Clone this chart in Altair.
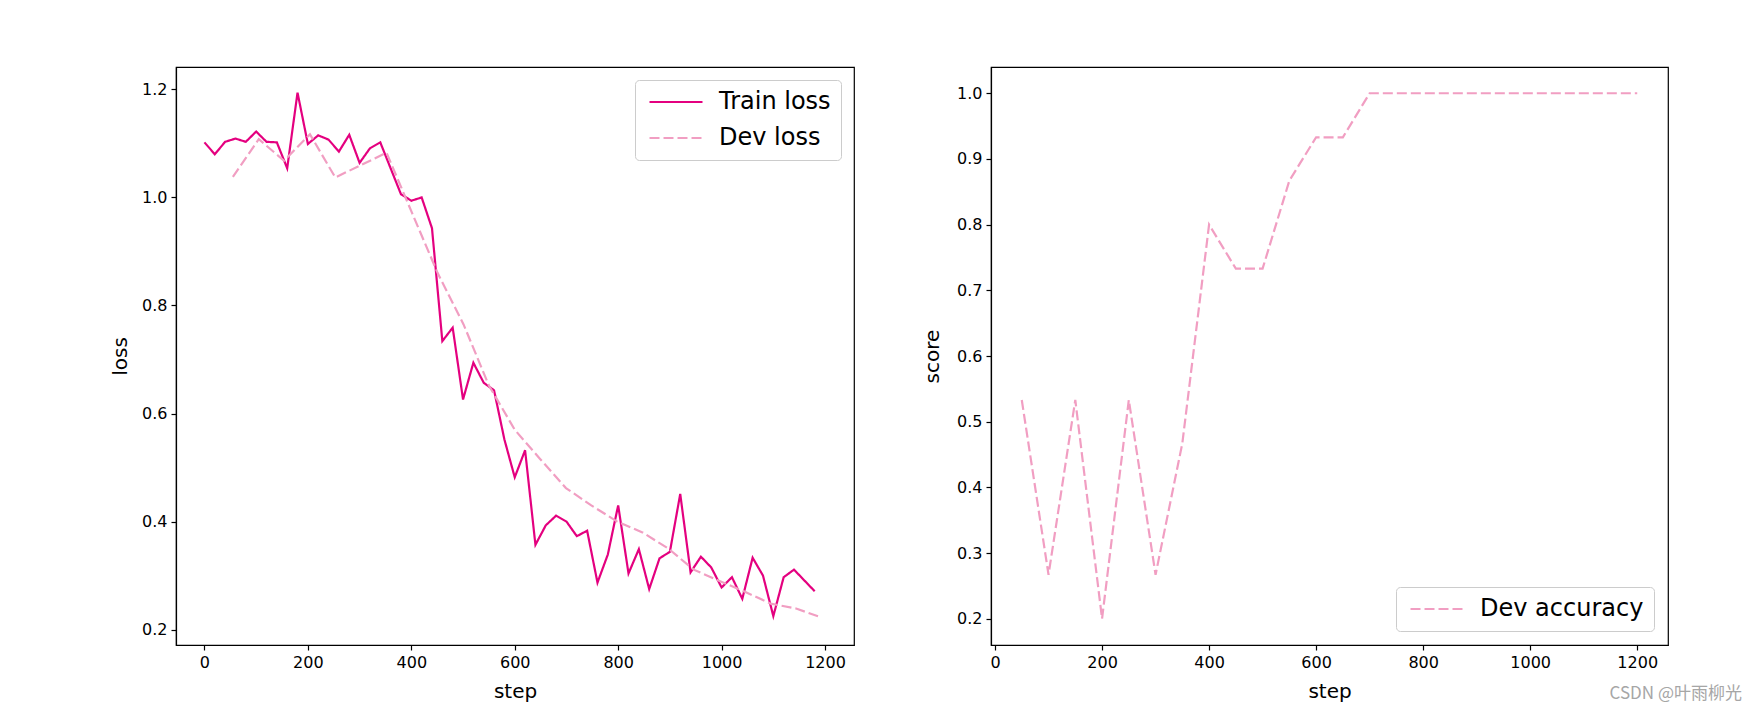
import altair as alt
import pandas as pd

# ---- data ----
train_steps = list(range(0, 1200, 20))
train_loss = [1.102, 1.080, 1.103, 1.109, 1.103, 1.122, 1.103, 1.102, 1.054, 1.194,
              1.099, 1.115, 1.107, 1.085, 1.116, 1.064, 1.091, 1.102, 1.054, 1.006,
              0.994, 1.000, 0.943, 0.734, 0.759, 0.626, 0.694, 0.657, 0.643, 0.552,
              0.482, 0.532, 0.357, 0.393, 0.411, 0.400, 0.373, 0.383, 0.287, 0.339,
              0.430, 0.304, 0.349, 0.275, 0.332, 0.344, 0.451, 0.306, 0.335, 0.315,
              0.278, 0.297, 0.257, 0.333, 0.300, 0.225, 0.297, 0.311, 0.291, 0.271]

dev_loss_steps = [55, 105, 154, 204, 253, 303, 352, 402, 451, 501, 550, 600,
                  649, 699, 748, 798, 847, 897, 946, 996, 1045, 1095, 1144, 1191]
dev_loss = [1.038, 1.108, 1.068, 1.117, 1.037, 1.060, 1.083, 0.970, 0.860, 0.765,
            0.652, 0.570, 0.516, 0.462, 0.430, 0.400, 0.380, 0.350, 0.311, 0.290,
            0.270, 0.248, 0.239, 0.223]

acc_steps = [50, 100, 150, 200, 250, 300, 350, 400, 450, 500, 550, 600,
             650, 700, 750, 800, 850, 900, 950, 1000, 1050, 1100, 1150, 1200]
dev_acc = [0.533, 0.267, 0.533, 0.200, 0.533, 0.267, 0.467, 0.800, 0.733, 0.733,
           0.867, 0.933, 0.933, 1.000, 1.000, 1.000, 1.000, 1.000, 1.000, 1.000,
           1.000, 1.000, 1.000, 1.000]

loss_series = ["Train loss", "Dev loss"]
acc_series = ["Dev accuracy"]
x_ticks = [0, 200, 400, 600, 800, 1000, 1200]
loss_ticks = [0.2, 0.4, 0.6, 0.8, 1.0, 1.2]
score_ticks = [0.2, 0.3, 0.4, 0.5, 0.6, 0.7, 0.8, 0.9, 1.0]
watermark = "CSDN @叶雨柳光"

TRAIN_C = "#e4007f"
DEV_C = "#f19ec2"
DASH = [10, 4]

train_df = pd.DataFrame({"step": train_steps, "value": train_loss, "series": "Train loss"})
devl_df = pd.DataFrame({"step": dev_loss_steps, "value": dev_loss, "series": "Dev loss"})
acc_df = pd.DataFrame({"step": acc_steps, "value": dev_acc, "series": "Dev accuracy"})

PW, PH = 678, 578

loss_color = alt.Color("series:N", scale=alt.Scale(domain=loss_series, range=[TRAIN_C, DEV_C]),
                       legend=alt.Legend(title=None, orient="top-right", offset=13))
loss_dash = alt.StrokeDash("series:N", scale=alt.Scale(domain=loss_series, range=[[1, 0], DASH]),
                           legend=alt.Legend(title=None, orient="top-right", offset=13))

x_left = alt.X("step:Q", title="step",
               scale=alt.Scale(domain=[-55, 1256], nice=False, zero=False),
               axis=alt.Axis(values=x_ticks, format="d", titlePadding=11))
y_left = alt.Y("value:Q", title="loss",
               scale=alt.Scale(domain=[0.1715, 1.2415], nice=False, zero=False),
               axis=alt.Axis(values=loss_ticks, format=".1f", titleX=-56, titleY=PH / 2,
                             titleBaseline="middle", titleAngle=270))

train_line = alt.Chart(train_df).mark_line(strokeWidth=2.2).encode(
    x=x_left, y=y_left, color=loss_color, strokeDash=loss_dash)
dev_line = alt.Chart(devl_df).mark_line(strokeWidth=2.2).encode(
    x=x_left, y=y_left, color=loss_color, strokeDash=loss_dash)

left = alt.layer(train_line, dev_line).properties(width=PW, height=PH)

x_right = alt.X("step:Q", title="step",
                scale=alt.Scale(domain=[-7.5, 1257.5], nice=False, zero=False),
                axis=alt.Axis(values=x_ticks, format="d", titlePadding=11))
y_right = alt.Y("value:Q", title="score",
                scale=alt.Scale(domain=[0.16, 1.04], nice=False, zero=False),
                axis=alt.Axis(values=score_ticks, format=".1f", titleX=-59, titleY=PH / 2,
                              titleBaseline="middle", titleAngle=270))

acc_line = alt.Chart(acc_df).mark_line(strokeWidth=2.2).encode(
    x=x_right, y=y_right,
    color=alt.Color("series:N", scale=alt.Scale(domain=acc_series, range=[DEV_C]),
                    legend=alt.Legend(title=None, orient="bottom-right", offset=14)),
    strokeDash=alt.StrokeDash("series:N", scale=alt.Scale(domain=acc_series, range=[DASH]),
                              legend=alt.Legend(title=None, orient="bottom-right", offset=14)),
)

wm = alt.Chart(pd.DataFrame({"t": [watermark]})).mark_text(
    align="right", baseline="middle", fontSize=17, color="#a6a6a6",
    font="Noto Sans CJK SC").encode(text="t:N", x=alt.value(751), y=alt.value(627))

right = alt.layer(acc_line, wm).properties(width=677, height=PH).resolve_scale(
    color="independent", strokeDash="independent")

chart = alt.hconcat(left, right, spacing=137, bounds="flush").resolve_scale(
    color="independent", strokeDash="independent", x="independent", y="independent"
).properties(
    padding={"left": 109, "top": 66, "right": 6, "bottom": 0}
).configure(
    font="DejaVu Sans", background="white"
).configure_view(
    stroke="black", strokeWidth=1.2
).configure_axis(
    grid=False, labelFontSize=16, titleFontSize=20, titleFontWeight="normal",
    labelColor="black", titleColor="black", tickColor="black", domainColor="black",
    tickSize=5, tickWidth=1.2, domainWidth=1.2, labelPadding=4, labelFont="DejaVu Sans",
    titleFont="DejaVu Sans"
).configure_legend(
    labelFontSize=24, labelFont="DejaVu Sans", labelColor="black", padding=10,
    rowPadding=12, cornerRadius=4, strokeColor="#cccccc", fillColor="white",
    symbolType="stroke", symbolSize=2809, symbolStrokeWidth=2.2, labelOffset=15,
    symbolOffset=3, clipHeight=24, labelLimit=400
)

chart.save("out.html", embed_options={"renderer": "svg", "actions": False})
